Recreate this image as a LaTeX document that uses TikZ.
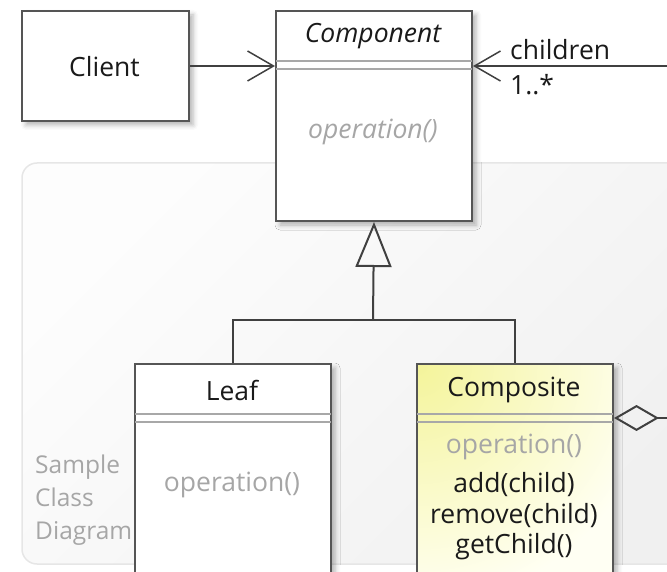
\documentclass[tikz,border=0pt]{standalone}
\usepackage{fontspec}
\setmainfont{Open Sans}
\usetikzlibrary{arrows.meta,shadows.blur,calc}
\definecolor{linec}{HTML}{404040}
\definecolor{boxc}{HTML}{555555}
\definecolor{sepc}{HTML}{A8A8A8}
\definecolor{greytext}{HTML}{A6A6A6}
\definecolor{txt}{HTML}{1A1A1A}
\definecolor{yelA}{HTML}{F4F49A}
\definecolor{yelB}{HTML}{FFFFF3}
\definecolor{bgA}{HTML}{FDFDFD}
\definecolor{bgB}{HTML}{F0F0F0}
\definecolor{bgline}{HTML}{E6E6E6}
\begin{document}
\begin{tikzpicture}[x=1pt,y=-1pt,
  umlbox/.style={draw=boxc, line width=2pt, fill=white, rectangle, inner sep=0pt, anchor=north west,
    blur shadow={shadow xshift=4pt,shadow yshift=-4pt,shadow opacity=30,shadow blur radius=5pt}},
  sep/.style={draw=sepc, line width=1.5pt, shorten <=1pt, shorten >=1pt},
  lbl/.style={font=\fontsize{26.5}{30}\selectfont, text=txt, inner sep=0pt},
  ilbl/.style={lbl, font=\fontsize{26.5}{30}\selectfont\itshape},
  glbl/.style={lbl, text=greytext},
  gilbl/.style={ilbl, text=greytext},
  conn/.style={draw=linec, line width=2pt},
  assoc/.style={conn, -{Straight Barb[length=26pt,width=30pt,line width=1.5pt]}},
  gen/.style={conn, -{Triangle[open,length=45pt,width=36pt,line width=2pt]}},
  agg/.style={conn, {Diamond[open,length=45pt,width=26pt,line width=2pt]}-{Straight Barb[length=26pt,width=30pt,line width=1.5pt]}},
  yellowfill/.style={fill=yelB, path picture={\shade[inner color=yelA, outer color=yelB] (path picture bounding box.north west) circle (240pt);}},
]
\useasboundingbox (0,0) rectangle (667,572);
\clip (0,0) rectangle (667,572);
% background panel
\shade[left color=bgA, right color=bgB, shading angle=45, draw=bgline, line width=1.5pt, rounded corners=15pt]
  (22,163) rectangle (720,564);
\node[glbl, align=left, anchor=west, font=\fontsize{24.5}{33}\selectfont] (caption) at (35,500) {Sample\\Class\\Diagram};

% Client
\node[umlbox, minimum width=167pt, minimum height=110pt] (client) at (21,10) {};
\node[lbl] (clientlbl) at (104.5,67) {Client};

% Component
\node[umlbox, minimum width=196pt, minimum height=210pt] (comp) at (275,10) {};
\node[ilbl] (complbl) at (373,36) {Component};
\draw[sep] (comp.west |- 0,61) -- (comp.east |- 0,61);
\draw[sep] (comp.west |- 0,69) -- (comp.east |- 0,69);
\node[gilbl] (compop) at (373,132) {operation()};

% Leaf
\node[umlbox, minimum width=196pt, minimum height=240pt] (leaf) at (134,363) {};
\node[lbl] (leaflbl) at (232,390) {Leaf};
\draw[sep] (leaf.west |- 0,414) -- (leaf.east |- 0,414);
\draw[sep] (leaf.west |- 0,422) -- (leaf.east |- 0,422);
\node[glbl] (leafop) at (232,485) {operation()};

% Composite
\node[umlbox, yellowfill, minimum width=196pt, minimum height=240pt] (compo) at (416,363) {};
\node[lbl] (compolbl) at (514,390) {Composite};
\draw[sep] (compo.west |- 0,414) -- (compo.east |- 0,414);
\draw[sep] (compo.west |- 0,422) -- (compo.east |- 0,422);
\node[glbl] (compoop) at (514,447) {operation()};
\node[lbl] (compoadd) at (514,485) {add(child)};
\node[lbl] (comporem) at (514,516) {remove(child)};
\node[lbl] (compoget) at (514,547) {getChild()};

% connectors
\draw[assoc] (client.east) -- (comp.west |- client.east);
\coordinate (junc) at (373,320);
\draw[conn] (leaf.north) |- (junc) -| (compo.north);
\draw[gen] (junc) -- (comp.south);
\coordinate (offR) at (700,65);
\draw[agg] (compo.east |- 0,418) -| (offR) |- (comp.east |- client.east);
\node[lbl, anchor=west] (childrenlbl) at (510,50) {children};
\node[lbl, anchor=west] (multlbl) at (510,85) {1..*};
\end{tikzpicture}
\end{document}
